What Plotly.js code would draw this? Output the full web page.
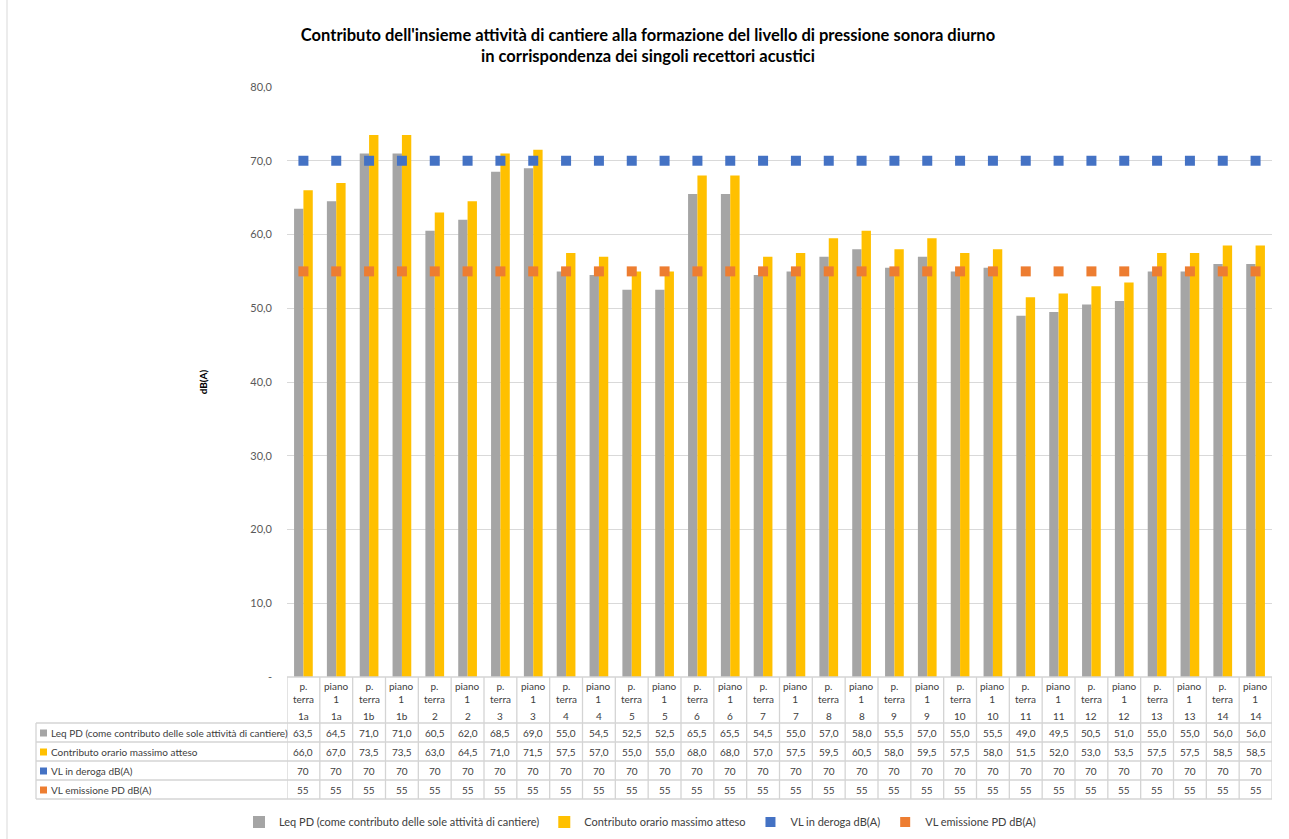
<!DOCTYPE html>
<html>
<head>
<meta charset="utf-8">
<script src="https://cdn.plot.ly/plotly-3.0.1.min.js"></script>
<style>html,body{margin:0;padding:0;background:#fff;}#chart{width:1289px;height:839px;}</style>
</head>
<body>
<div id="chart"></div>
<script>
// ---------- DATA ----------
const recettori = ['1a','1a','1b','1b','2','2','3','3','4','4','5','5','6','6','7','7','8','8','9','9','10','10','11','11','12','12','13','13','14','14'];
const piani = ['p. terra','piano 1','p. terra','piano 1','p. terra','piano 1','p. terra','piano 1','p. terra','piano 1','p. terra','piano 1','p. terra','piano 1','p. terra','piano 1','p. terra','piano 1','p. terra','piano 1','p. terra','piano 1','p. terra','piano 1','p. terra','piano 1','p. terra','piano 1','p. terra','piano 1'];
const leqPD = [63.5,64.5,71.0,71.0,60.5,62.0,68.5,69.0,55.0,54.5,52.5,52.5,65.5,65.5,54.5,55.0,57.0,58.0,55.5,57.0,55.0,55.5,49.0,49.5,50.5,51.0,55.0,55.0,56.0,56.0];
const contributo = [66.0,67.0,73.5,73.5,63.0,64.5,71.0,71.5,57.5,57.0,55.0,55.0,68.0,68.0,57.0,57.5,59.5,60.5,58.0,59.5,57.5,58.0,51.5,52.0,53.0,53.5,57.5,57.5,58.5,58.5];
const vlDeroga = [70,70,70,70,70,70,70,70,70,70,70,70,70,70,70,70,70,70,70,70,70,70,70,70,70,70,70,70,70,70];
const vlEmissione = [55,55,55,55,55,55,55,55,55,55,55,55,55,55,55,55,55,55,55,55,55,55,55,55,55,55,55,55,55,55];
const seriesNames = ['Leq PD (come contributo delle sole attività di cantiere)','Contributo orario massimo atteso','VL in deroga dB(A)','VL emissione PD dB(A)'];
const yTickVals = [0,10,20,30,40,50,60,70,80];
const yTickText = ['-','10,0','20,0','30,0','40,0','50,0','60,0','70,0','80,0'];
const titleText = "Contributo dell'insieme attività di cantiere alla formazione del livello di pressione sonora diurno<br>in corrispondenza dei singoli recettori acustici";

// ---------- STYLE ----------
const colors = ['#A5A5A5','#FFC000','#4472C4','#ED7D31'];
const FONT = 'Lato, "Open Sans", sans-serif';
const W = 1289, H = 839;
const PL = 287, PR = 1272, PT = 87, PB = 677;
const py = p => (PB - p) / (PB - PT);      // pixel y -> paper y
const px = p => (p - PL) / (PR - PL);      // pixel x -> paper x
const gridCol = '#D9D9D9';
const tableCol = '#D4D4D4';
const txtCol = '#404040';

const xKeys = recettori.map((r,i) => r + ' ' + piani[i]);
const n = xKeys.length;

const traces = [
  {type:'bar', name:seriesNames[0], x:xKeys, y:leqPD, marker:{color:colors[0]}, hoverinfo:'y'},
  {type:'bar', name:seriesNames[1], x:xKeys, y:contributo, marker:{color:colors[1]}, hoverinfo:'y'},
  {type:'scatter', mode:'markers', name:seriesNames[2], x:xKeys, y:vlDeroga, marker:{color:colors[2], symbol:'square', size:10}, hoverinfo:'y'},
  {type:'scatter', mode:'markers', name:seriesNames[3], x:xKeys, y:vlEmissione, marker:{color:colors[3], symbol:'square', size:10}, hoverinfo:'y'}
];

// ---------- DATA TABLE ----------
const shapes = [];
const annotations = [];
const rowTops = [723, 742, 761, 780, 799];
const line = (x0,y0,x1,y1,xref) => ({type:'line', xref:xref, yref:'paper', x0:x0, x1:x1, y0:py(y0), y1:py(y1), line:{color:tableCol, width:1.3}});
for (let i = 0; i <= n; i++) shapes.push(line(i-0.5, PB, i-0.5, rowTops[4], 'x'));
shapes.push(line(0, PB, 1, PB, 'paper'));
rowTops.forEach(t => shapes.push(line(px(36), t, 1, t, 'paper')));
shapes.push(line(px(36), rowTops[0], px(36), rowTops[4], 'paper'));
shapes.push({type:'line', xref:'paper', yref:'paper', x0:px(7), x1:px(7), y0:py(0), y1:py(H), line:{color:'#D9D9D9', width:1}});

for (let i = 0; i < n; i++) {
  annotations.push({xref:'x', yref:'paper', x:i, y:py(692.5), text:piani[i].replace(' ', '<br>'), showarrow:false, font:{family:FONT, size:10, color:txtCol}, xanchor:'center', yanchor:'middle'});
  annotations.push({xref:'x', yref:'paper', x:i, y:py(715.5), text:recettori[i], showarrow:false, font:{family:FONT, size:10, color:txtCol}, xanchor:'center', yanchor:'middle'});
}
const fmt1 = v => v.toFixed(1).replace('.', ',');
const fmt0 = v => String(v);
const rows = [[leqPD, fmt1],[contributo, fmt1],[vlDeroga, fmt0],[vlEmissione, fmt0]];
rows.forEach((r, k) => {
  const yc = (rowTops[k] + rowTops[k+1]) / 2 + 0.5;
  shapes.push({type:'rect', xref:'paper', yref:'paper', x0:px(40), x1:px(47), y0:py(yc-3.5), y1:py(yc+3.5), fillcolor:colors[k], line:{width:0}});
  annotations.push({xref:'paper', yref:'paper', x:px(49), y:py(yc), text:seriesNames[k], showarrow:false, font:{family:FONT, size:10, color:txtCol}, xanchor:'left', yanchor:'middle'});
  r[0].forEach((v, i) => {
    annotations.push({xref:'x', yref:'paper', x:i, y:py(yc), text:r[1](v), showarrow:false, font:{family:FONT, size:10, color:txtCol}, xanchor:'center', yanchor:'middle'});
  });
});

const layout = {
  width: W, height: H, autosize: false,
  margin: {l: PL, r: W - PR, t: PT, b: H - PB, pad: 0, autoexpand: false},
  paper_bgcolor: '#fff', plot_bgcolor: '#fff',
  font: {family: FONT, color: '#595959', size: 11},
  title: {text: titleText, x: 648/W, xref: 'container', xanchor: 'center', y: 1 - 41/H, yref: 'container', yanchor: 'middle',
          font: {family: FONT, size: 16.5, color: '#000', weight: 'bold'}},
  barmode: 'group', bargap: 0.43, bargroupgap: 0,
  xaxis: {type: 'category', range: [-0.5, n - 0.5], showticklabels: false, showgrid: false, zeroline: false, showline: false, ticks: '', automargin: false},
  yaxis: {range: [0, 80], tickvals: yTickVals, ticktext: yTickText, showgrid: true, gridcolor: gridCol, gridwidth: 1,
          zeroline: false, showline: false, ticks: '', ticklabelstandoff: 14, automargin: false,
          tickfont: {family: FONT, size: 11, color: '#595959'},
          title: {text: 'dB(A)', standoff: 40, font: {family: FONT, size: 10, color: '#000', weight: 'bold'}}},
  legend: {orientation: 'h', xref: 'paper', x: px(640), xanchor: 'center', yref: 'paper', y: py(822), yanchor: 'middle',
           font: {family: FONT, size: 11, color: txtCol}, traceorder: 'normal', itemwidth: 30},
  shapes: shapes,
  annotations: annotations,
  showlegend: true
};

Plotly.newPlot('chart', traces, layout, {displayModeBar: false, staticPlot: true});
</script>
</body>
</html>
